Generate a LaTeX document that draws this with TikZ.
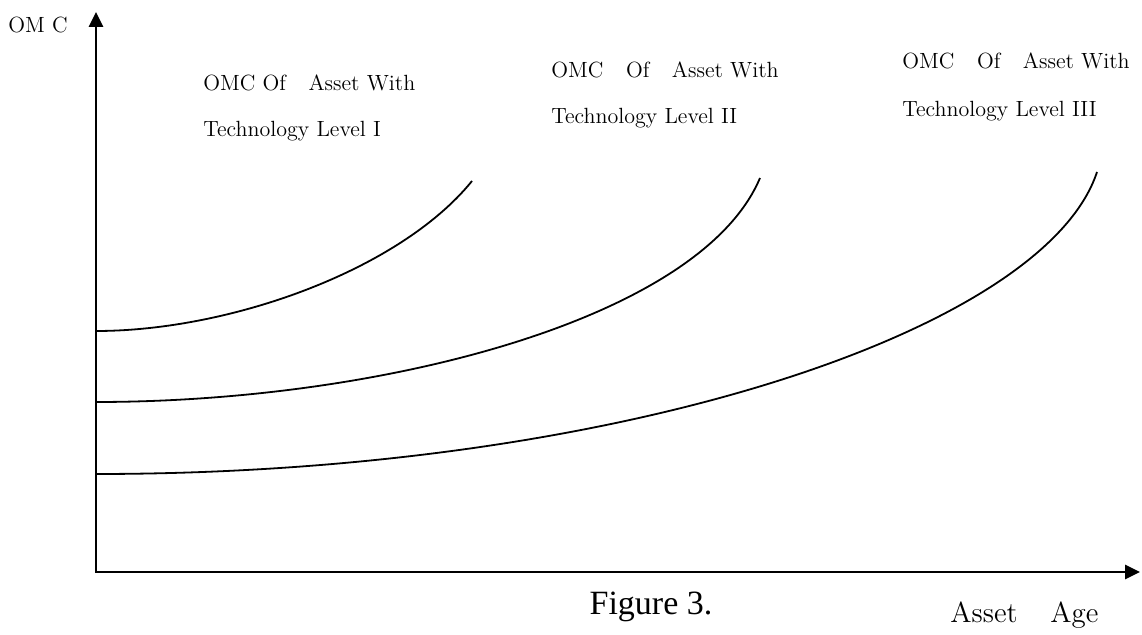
\documentclass[tikz,border=0pt]{standalone}
\usepackage{fontspec}
\newfontfamily\figfont{Liberation Serif}
\usetikzlibrary{arrows.meta}
\usetikzlibrary{positioning}

\begin{document}
\begin{tikzpicture}[x=0.5pt,y=-0.5pt,
	>={Triangle[length=7.5pt,width=7pt]},
	axis/.style={line width=1.4pt, <->},
	curve/.style={line width=0.9pt},
	lbl/.style={anchor=base west, inner sep=0pt, font=\fontsize{11}{13}\selectfont}]
			\useasboundingbox (0,0) rectangle (1142,635);
			\coordinate (Y) at (96,12);
			\coordinate (O) at (96,572);
			\coordinate (X) at (1140,572);
			
			\draw[axis] (Y) -- (O) -- (X);
			
			\node[lbl] (ylab) at (8,33) {OM C};
			\node[lbl, font=\fontsize{14.5}{16}\selectfont] (xlab) at (950,623) {Asset\hspace{0.8em} Age};
			\node[anchor=base, inner sep=0pt, font=\figfont\fontsize{17}{19}\selectfont] (fig) at (651,615) {Figure 3.};
			
			\node[lbl] (t1) at (203,91) {OMC Of\hspace{0.7em} Asset With};
			\node[lbl] (s1) at (203,137) {Technology Level I};
			\node[lbl] (t2) at (551,78) {OMC\hspace{0.7em} Of\hspace{0.7em} Asset With};
			\node[lbl] (s2) at (551,124) {Technology Level II};
			\node[lbl] (t3) at (902,69) {OMC\hspace{0.7em} Of\hspace{0.7em} Asset With};
			\node[lbl] (s3) at (902,117) {Technology Level III};
			
			\draw[curve] (96,331) .. controls (230,331) and (400,270) .. (472,181);
			\draw[curve] (96,402) .. controls (380,402) and (700,320) .. (760,178);
			\draw[curve] (96,474) .. controls (620,474) and (1045,330) .. (1097,172);
		\end{tikzpicture}
\end{document}
